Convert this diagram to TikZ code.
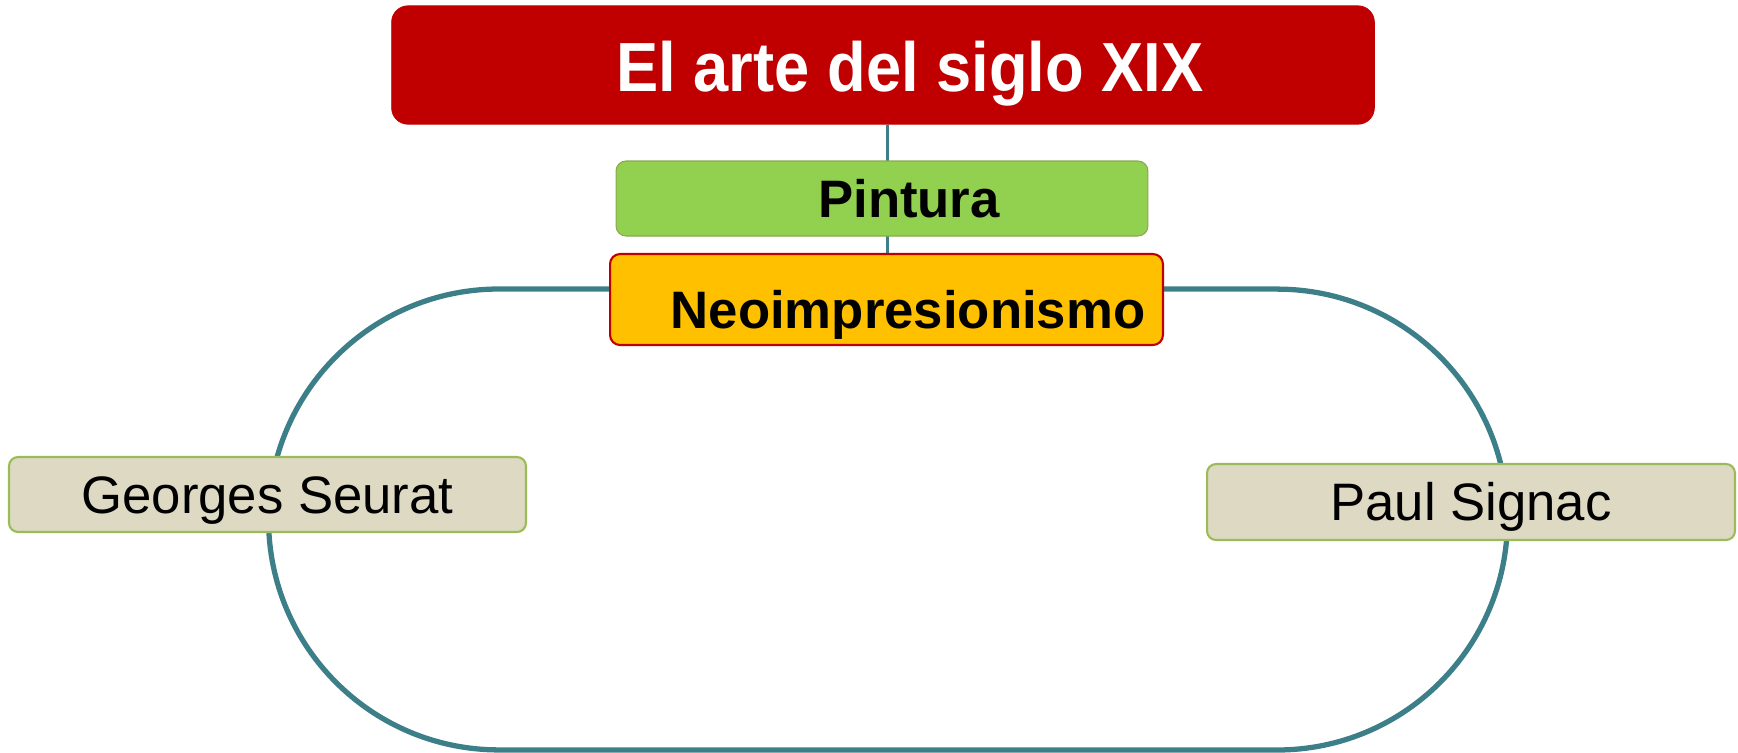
\documentclass[tikz,border=0pt]{standalone}
\usepackage{fontspec}
\setmainfont{Liberation Sans}
\usepackage{graphicx}
\usepackage{tikz}
\usetikzlibrary{backgrounds}

\definecolor{rojo}{HTML}{C00000}
\definecolor{verde}{HTML}{92D050}
\definecolor{naranja}{HTML}{FFC000}
\definecolor{beige}{HTML}{DDD9C3}
\definecolor{oliva}{HTML}{9BBB59}
\definecolor{petroleo}{HTML}{3D7F89}

\begin{document}
\begin{tikzpicture}[x=0.02cm,y=-0.02cm,
	titulo/.style={rounded corners=0.33cm,fill=rojo,draw=rojo,inner sep=0pt,
		minimum width=19.66cm,minimum height=2.37cm,text=white,
		font=\fontsize{36}{40}\selectfont\bfseries,text height=30.6pt,text depth=0pt},
	rama/.style={rounded corners=0.2cm,fill=verde,draw=oliva!90!black,line width=0.6pt,inner sep=0pt,
		minimum width=10.64cm,minimum height=1.5cm,
		font=\fontsize{30}{36}\selectfont\bfseries,text height=21.5pt,text depth=0pt},
	tema/.style={rounded corners=0.2cm,fill=naranja,draw=rojo,line width=1.2pt,inner sep=0pt,
		minimum width=11.06cm,minimum height=1.82cm,
		font=\fontsize{30}{36}\selectfont\bfseries,text height=32.8pt,text depth=0pt},
	autor/.style={rounded corners=0.18cm,fill=beige,draw=oliva,line width=1.2pt,inner sep=0pt,
		minimum height=1.5cm,
		font=\fontsize{30}{36}\selectfont,text height=21.5pt,text depth=0pt},
	enlace/.style={draw=petroleo,line width=2.2pt},
	anillo/.style={draw=petroleo,line width=3pt}]

	\useasboundingbox (0,0) rectangle (1738,752);

	\node[titulo] (arte) at (883,65) {\hspace*{1.08cm}\scalebox{1}[1.1]{El arte del siglo XIX}};
	\node[rama] (pintura) at (882,198.5) {\hspace*{1.08cm}Pintura};
	\node[tema] (neo) at (886.5,299.5) {\hspace*{0.86cm}Neoimpresionismo};
	\node[autor,minimum width=10.34cm] (seurat) at (267.5,494.5) {Georges Seurat};
	\node[autor,minimum width=10.56cm,minimum height=1.52cm] (signac) at (1471,502) {Paul Signac};

	\begin{scope}[on background layer]
		\draw[enlace] ([xshift=0.09cm]arte.south) -- ([xshift=0.09cm]arte.south |- neo.north);
		\draw[anillo] (neo.west |- 0,289) -- (499,289)
			arc[start angle=90,end angle=270,radius=4.61cm] -- (1277,750)
			arc[start angle=-90,end angle=90,radius=4.61cm] -- (neo.east |- 0,289);
	\end{scope}

\end{tikzpicture}
\end{document}
